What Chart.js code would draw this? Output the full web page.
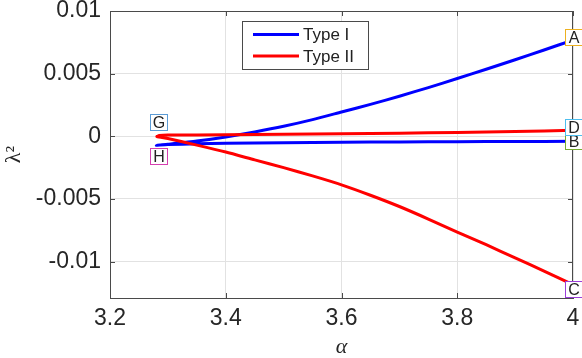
<!DOCTYPE html>
<html><head><meta charset="utf-8">
<script src="https://cdn.jsdelivr.net/npm/chart.js@4.4.0/dist/chart.umd.min.js"></script>
<style>html,body{margin:0;padding:0;background:#fff}#wrap{width:582px;height:358px}</style>
</head><body><div id="wrap"><canvas id="c" width="582" height="358"></canvas></div>
<script>
// ---- data ----
const seriesNames = ['Type I', 'Type II'];
const seriesColors = ['#0000ff', '#ff0000'];

// Type I (blue): two branches meeting at the fold near alpha = 3.28
const typeIUpperX = [3.28, 3.30, 3.35, 3.40, 3.45, 3.50, 3.55, 3.60, 3.65, 3.70, 3.75, 3.80, 3.85, 3.90, 3.95, 4.00];
const typeIUpperY = [-0.00072, -0.00063, -0.00038, -0.00005, 0.00035, 0.00080, 0.00133, 0.00194, 0.00255, 0.00320, 0.00389, 0.00461, 0.00535, 0.00611, 0.00689, 0.00768];
const typeILowerX = [3.28, 3.30, 3.35, 3.40, 3.50, 3.60, 3.70, 3.80, 3.90, 4.00];
const typeILowerY = [-0.00072, -0.00066, -0.00060, -0.00056, -0.00051, -0.00047, -0.00045, -0.00043, -0.00041, -0.00040];

// Type II (red)
const typeIIUpperX = [3.281, 3.285, 3.30, 3.40, 3.50, 3.60, 3.70, 3.80, 3.90, 4.00];
const typeIIUpperY = [-0.00002, 0.00006, 0.00010, 0.00012, 0.00016, 0.00020, 0.00025, 0.00031, 0.00039, 0.00048];
const typeIILowerX = [3.281, 3.30, 3.35, 3.40, 3.45, 3.50, 3.55, 3.60, 3.65, 3.70, 3.75, 3.80, 3.85, 3.90, 3.95, 4.00];
const typeIILowerY = [-0.00002, -0.00018, -0.00070, -0.00125, -0.00188, -0.00250, -0.00316, -0.00387, -0.00470, -0.00560, -0.00660, -0.00765, -0.00865, -0.00970, -0.01075, -0.01184];

// ticks
const xTickValues = [3.2, 3.4, 3.6, 3.8, 4];
const xTickLabels = ['3.2', '3.4', '3.6', '3.8', '4'];
const yTickValues = [-0.01, -0.005, 0, 0.005, 0.01];
const yTickLabels = ['-0.01', '-0.005', '0', '0.005', '0.01'];

// point labels
const markNames = ['A', 'B', 'C', 'D', 'G', 'H'];
const markX = [4, 4, 4, 4, 3.2843, 3.283];
const markY = [0.00796, -0.0004, -0.0122, 0.00072, 0.00112, -0.00156];
const markColors = ['#EDB120', '#77AC30', '#9B3FD8', '#4DBEEE', '#5B9BD5', '#D63FB0'];

// ---- build ----
function pts(xs, ys) { return xs.map((x, i) => ({ x: x, y: ys[i] })); }
const typeIData = pts(typeILowerX, typeILowerY).reverse().concat(pts(typeIUpperX, typeIUpperY).slice(1));
const typeIIData = pts(typeIILowerX, typeIILowerY).reverse().concat(pts(typeIIUpperX, typeIIUpperY).slice(1));

const axisColor = '#4a4a4a';
const gridColor = '#e2e2e2';
const sansFont = '"Liberation Sans", Arial, Helvetica, sans-serif';
const serifFont = '"Liberation Serif", "DejaVu Serif", serif';

const decor = {
  id: 'decor',
  afterDatasetsDraw(chart) {
    const { ctx, chartArea: a, scales } = chart;
    const xs = scales.x, ys = scales.y;
    ctx.save();
    ctx.strokeStyle = axisColor; ctx.lineWidth = 1;
    ctx.beginPath();
    ctx.moveTo(a.left, Math.round(a.top) + 0.5); ctx.lineTo(a.right, Math.round(a.top) + 0.5);
    ctx.moveTo(Math.round(a.right) - 0.5, a.top); ctx.lineTo(Math.round(a.right) - 0.5, a.bottom);
    ctx.stroke();
    const tl = 5;
    ctx.beginPath();
    xTickValues.forEach(v => {
      const px = Math.round(xs.getPixelForValue(v)) + 0.5;
      ctx.moveTo(px, a.bottom); ctx.lineTo(px, a.bottom - tl);
      ctx.moveTo(px, a.top); ctx.lineTo(px, a.top + tl);
    });
    yTickValues.forEach(v => {
      const py = Math.round(ys.getPixelForValue(v)) + 0.5;
      ctx.moveTo(a.left, py); ctx.lineTo(a.left + tl, py);
      ctx.moveTo(a.right, py); ctx.lineTo(a.right - tl, py);
    });
    ctx.stroke();

    // legend
    const lx = 242.5, ly = 21.5, lw = 126, lh = 48;
    ctx.fillStyle = '#fff';
    ctx.fillRect(lx, ly, lw, lh);
    ctx.strokeStyle = '#4a4a4a'; ctx.lineWidth = 1;
    ctx.strokeRect(lx, ly, lw, lh);
    ctx.font = '17px ' + sansFont;
    ctx.textBaseline = 'middle'; ctx.textAlign = 'left';
    seriesNames.forEach((n, i) => {
      const yy = 34.5 + i * 21.5;
      ctx.strokeStyle = seriesColors[i]; ctx.lineWidth = 3;
      ctx.beginPath(); ctx.moveTo(253, yy); ctx.lineTo(299, yy); ctx.stroke();
      ctx.fillStyle = '#222';
      ctx.fillText(n, 303, yy + 1);
    });

    // point labels
    ctx.font = '16px ' + sansFont;
    ctx.textAlign = 'center'; ctx.textBaseline = 'middle';
    markNames.forEach((n, i) => {
      const cx = xs.getPixelForValue(markX[i]);
      const cy = ys.getPixelForValue(markY[i]);
      const w = 17, h = 16;
      const bx = Math.round(cx - w / 2) + 0.5, by = Math.round(cy - h / 2) + 0.5;
      ctx.fillStyle = '#fff';
      ctx.fillRect(bx, by, w, h);
      ctx.strokeStyle = markColors[i]; ctx.lineWidth = 1;
      ctx.strokeRect(bx, by, w, h);
      ctx.fillStyle = '#222';
      ctx.fillText(n, bx + w / 2, by + h / 2 + 1);
    });
    ctx.restore();
  }
};

new Chart(document.getElementById('c'), {
  type: 'scatter',
  data: {
    datasets: [
      { label: seriesNames[0], data: typeIData, showLine: true, borderColor: seriesColors[0], backgroundColor: seriesColors[0],
        borderWidth: 3, pointRadius: 0, tension: 0.2, order: 2 },
      { label: seriesNames[1], data: typeIIData, showLine: true, borderColor: seriesColors[1], backgroundColor: seriesColors[1],
        borderWidth: 3, pointRadius: 0, tension: 0.2, order: 1 }
    ]
  },
  options: {
    responsive: false,
    animation: false,
    layout: { padding: { left: 0, right: 9, top: 11, bottom: 0 } },
    plugins: { legend: { display: false }, tooltip: { enabled: false } },
    scales: {
      x: {
        type: 'linear', min: 3.2, max: 4,
        afterBuildTicks: s => { s.ticks = xTickValues.map(v => ({ value: v })); },
        afterFit: s => { s.height = 60; s.paddingLeft = 0; s.paddingRight = 0; },
        ticks: { callback: (v, i) => xTickLabels[i], font: { family: sansFont, size: 23 }, color: '#262626', padding: 7, maxRotation: 0 },
        grid: { color: gridColor, drawTicks: false, tickLength: 0 },
        border: { color: axisColor, width: 1 },
        title: { display: true, text: 'α', font: { family: serifFont, size: 22, style: 'italic', lineHeight: 1 }, color: '#262626', padding: { top: 0, bottom: 0 } }
      },
      y: {
        type: 'linear', min: -0.0129, max: 0.01,
        afterBuildTicks: s => { s.ticks = yTickValues.map(v => ({ value: v })); },
        afterFit: s => { s.width = 110; s.paddingTop = 0; s.paddingBottom = 0; },
        ticks: { callback: (v, i) => yTickLabels[i], font: { family: sansFont, size: 23 }, color: '#262626', padding: 9 },
        grid: { color: gridColor, drawTicks: false, tickLength: 0 },
        border: { color: axisColor, width: 1 },
        title: { display: true, text: 'λ²', font: { family: serifFont, size: 22 }, color: '#262626', padding: { top: 1, bottom: 0 } }
      }
    }
  },
  plugins: [decor]
});
</script>
</body></html>
